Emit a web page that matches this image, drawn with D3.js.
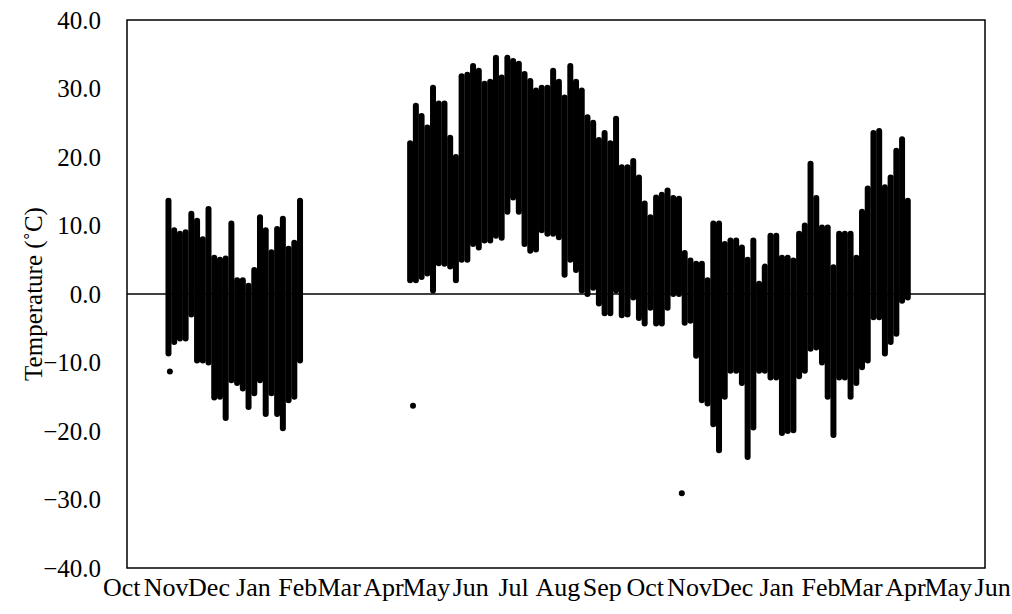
<!DOCTYPE html>
<html>
<head>
<meta charset="utf-8">
<script src="https://cdn.jsdelivr.net/npm/d3@7/dist/d3.min.js"></script>
<style>
  html, body { margin: 0; padding: 0; background: #ffffff; }
  svg { display: block; }
  text { font-family: "Liberation Serif", "Times New Roman", serif; fill: #000; }
</style>
</head>
<body>
<svg id="chart" width="1012" height="614"></svg>
<script>
// Month labels along the time axis (first day of each month)
const monthLabels = ["Oct","Nov","Dec","Jan","Feb","Mar","Apr","May","Jun","Jul","Aug","Sep",
                     "Oct","Nov","Dec","Jan","Feb","Mar","Apr","May","Jun"];
const firstMonth = new Date(2015, 9, 1);

// Y axis ticks
const yTicks = [-40, -30, -20, -10, 0, 10, 20, 30, 40];

// Temperature readings, summarised as the low / high of each 4-day window
const stepDays = 4;

const winterStart = new Date(2015, 10, 3);
const winterHigh = [13.6, 9.3, 8.8, 9.0, 11.7, 10.7, 8.0, 12.4, 5.3, 5.0, 5.2, 10.3,
                    2.0, 2.0, 1.2, 3.5, 11.2, 9.3, 6.1, 9.5, 11.0, 6.6, 7.5, 13.6];
const winterLow  = [-8.7, -7.0, -6.5, -6.5, -3.0, -9.7, -9.7, -10.0, -15.1, -15.0, -18.1, -12.6,
                    -13.0, -13.8, -16.5, -14.5, -12.6, -17.5, -14.5, -17.5, -19.6, -15.5, -15.0, -9.7];

const yearStart = new Date(2016, 3, 20);
const yearHigh = [22.0, 27.5, 26.0, 24.3, 30.1, 27.8, 27.8, 22.8, 20.0, 31.8,
                  32.0, 33.3, 32.6, 30.7, 31.0, 34.5, 31.6, 34.5, 34.0, 33.6,
                  32.1, 31.1, 29.7, 30.1, 30.1, 32.6, 31.0, 28.7, 33.3, 31.0,
                  29.7, 25.8, 25.0, 22.5, 23.5, 22.0, 25.6, 18.5, 18.5, 19.4,
                  17.0, 13.2, 11.2, 14.1, 14.5, 15.1, 14.0, 13.9, 6.0, 4.9,
                  4.4, 4.4, 2.0, 10.3, 10.3, 7.3, 7.8, 7.8, 6.8, 5.0,
                  7.8, 1.5, 4.0, 8.5, 8.5, 5.3, 5.3, 4.9, 8.8, 10.0,
                  19.0, 14.0, 9.7, 9.7, 3.9, 8.8, 8.8, 8.8, 5.3, 12.0,
                  15.4, 23.5, 23.8, 15.6, 17.0, 20.9, 22.6, 13.6];
const yearLow  = [2.0, 2.0, 2.5, 3.0, 0.5, 4.5, 4.4, 4.0, 2.0, 5.0,
                  5.0, 7.3, 6.8, 7.8, 7.8, 8.5, 8.2, 12.0, 14.1, 12.0,
                  7.3, 6.3, 6.5, 9.3, 8.8, 8.8, 8.3, 2.8, 5.0, 3.5,
                  0.5, 0.0, 0.9, -1.4, -2.8, -2.8, 0.5, -3.1, -3.0, -0.5,
                  -3.5, -4.3, -2.0, -4.3, -4.3, -2.0, 0.0, 0.0, -4.2, -3.9,
                  -9.0, -15.5, -16.0, -19.0, -22.8, -15.0, -11.2, -11.2, -13.0, -23.8,
                  -19.5, -11.2, -11.2, -12.2, -12.2, -20.3, -20.0, -19.9, -12.0, -11.2,
                  -8.0, -7.8, -10.0, -15.0, -20.6, -12.2, -12.2, -15.0, -13.0, -10.7,
                  -9.7, -3.4, -3.4, -8.7, -7.0, -5.8, -1.0, -0.5];

// Isolated readings away from the main cloud
const lonePoints = [
  { date: new Date(2015, 10, 4), value: -11.3 },
  { date: new Date(2016, 3, 22), value: -16.3 },
  { date: new Date(2016, 9, 27), value: -29.1 }
];

// ---- layout ----
const svg = d3.select("#chart");
const plot = { left: 127, right: 985, top: 20, bottom: 568 };
const serif = "'Liberation Serif', 'Times New Roman', serif";

const x = d3.scaleTime()
  .domain([new Date(2015, 9, 5), new Date(2017, 4, 27)])
  .range([plot.left, plot.right]);
const y = d3.scaleLinear()
  .domain([-40, 40])
  .range([plot.bottom, plot.top]);

function windows(start, hi, lo) {
  return hi.map((h, i) => ({
    date: d3.timeDay.offset(start, i * stepDays),
    high: h,
    low: lo[i]
  }));
}
const data = windows(winterStart, winterHigh, winterLow)
  .concat(windows(yearStart, yearHigh, yearLow));

// zero line
svg.append("line")
  .attr("x1", plot.left).attr("x2", plot.right)
  .attr("y1", y(0)).attr("y2", y(0))
  .attr("stroke", "#000").attr("stroke-width", 1.5);

// marker columns: each window spans from its low to its high reading
const dotSize = 6;
svg.append("g")
  .selectAll("line")
  .data(data)
  .join("line")
  .attr("x1", d => x(d.date)).attr("x2", d => x(d.date))
  .attr("y1", d => y(d.low)).attr("y2", d => y(d.high))
  .attr("stroke", "#000")
  .attr("stroke-width", dotSize)
  .attr("stroke-linecap", "round");

svg.append("g")
  .selectAll("circle")
  .data(lonePoints)
  .join("circle")
  .attr("cx", d => x(d.date))
  .attr("cy", d => y(d.value))
  .attr("r", dotSize / 2)
  .attr("fill", "#000");

// frame
svg.append("rect")
  .attr("x", plot.left).attr("y", plot.top)
  .attr("width", plot.right - plot.left)
  .attr("height", plot.bottom - plot.top)
  .attr("fill", "none")
  .attr("stroke", "#000")
  .attr("stroke-width", 1.5);

// y axis labels
const yAxis = d3.axisLeft(y)
  .tickValues(yTicks)
  .tickFormat(d3.format(".1f"))
  .tickSize(0)
  .tickPadding(26);
const gy = svg.append("g")
  .attr("transform", `translate(${plot.left},0)`)
  .call(yAxis);
gy.attr("font-family", null).attr("font-size", null);
gy.select(".domain").remove();
gy.selectAll("text")
  .style("font-family", serif)
  .style("font-size", "25px")
  .attr("fill", "#000");

// x axis labels
const monthDates = monthLabels.map((m, i) => d3.timeMonth.offset(firstMonth, i));
const xAxis = d3.axisBottom(x)
  .tickValues(monthDates)
  .tickFormat((d, i) => monthLabels[i])
  .tickSize(0)
  .tickPadding(10);
const gx = svg.append("g")
  .attr("transform", `translate(0,${plot.bottom})`)
  .call(xAxis);
gx.attr("font-family", null).attr("font-size", null);
gx.select(".domain").remove();
gx.selectAll("text")
  .style("font-family", serif)
  .style("font-size", "26px")
  .attr("fill", "#000");

// y title
svg.append("text")
  .attr("transform", `translate(33,${(plot.top + plot.bottom) / 2}) rotate(-90)`)
  .attr("text-anchor", "middle")
  .attr("dominant-baseline", "central")
  .style("font-family", serif)
  .style("font-size", "25px")
  .text("Temperature (\u02DAC)");
</script>
</body>
</html>
